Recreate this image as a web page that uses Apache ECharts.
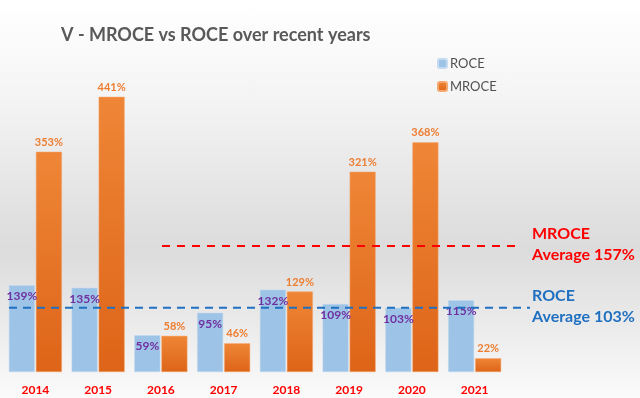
<!DOCTYPE html>
<html>
<head>
<meta charset="utf-8">
<script src="https://cdn.jsdelivr.net/npm/echarts@6/dist/echarts.min.js"></script>
<style>
  html, body { margin: 0; padding: 0; }
  #chart {
    width: 640px;
    height: 398px;
    background: linear-gradient(to bottom, #ffffff 0%, #f4f4f4 25%, #e0e0e0 55%, #dcdcdc 63%, #ebebeb 82%, #fbfbfb 100%);
  }
</style>
</head>
<body>
<div id="chart"></div>
<script>
// 数据
const years = ["2014", "2015", "2016", "2017", "2018", "2019", "2020", "2021"];
const roce = [139, 135, 59, 95, 132, 109, 103, 115];
const mroce = [353, 441, 58, 46, 129, 321, 368, 22];
// 平均线 (图上红线画的位置比157%高)
const roceAvg = 103;
const mroceAvgDrawn = 202;
const avgTexts = [
  { name: "MROCE", text: "Average 157%", color: "#ff0000" },
  { name: "ROCE", text: "Average 103%", color: "#1f70c1" }
];

const font = "Lato, 'Open Sans', sans-serif";
const chart = echarts.init(document.getElementById("chart"));

const option = {
  animation: false,
  textStyle: { fontFamily: font },
  title: {
    text: "V - MROCE vs ROCE over recent years",
    left: 56,
    top: 21,
    textStyle: { fontSize: 18, fontWeight: "bold", color: "#595959", fontFamily: font }
  },
  legend: {
    orient: "vertical",
    left: 432,
    top: 52,
    itemWidth: 9,
    itemHeight: 9,
    itemGap: 10,
    textStyle: { fontSize: 13, color: "#505050", padding: [0, 0, 0, -2] },
    data: ["ROCE", "MROCE"]
  },
  grid: { left: 4, right: 134, top: 60, bottom: 26 },
  xAxis: {
    type: "category",
    data: years,
    axisLine: { show: false },
    axisTick: { show: false },
    axisLabel: { color: "#ff0000", fontWeight: "bold", fontSize: 12, margin: 12 }
  },
  yAxis: {
    type: "value",
    min: 0,
    max: 500,
    show: false,
    splitLine: { show: false }
  },
  series: [
    {
      name: "ROCE",
      type: "bar",
      data: roce,
      barWidth: 26,
      barGap: "4%",
      itemStyle: { color: "#9dc3e6", borderColor: "#c3daf0", borderWidth: 0.5 },
      label: {
        show: true,
        position: "insideTop",
        distance: 5,
        formatter: "{c}%",
        color: "#7030a0",
        fontWeight: "bold",
        fontSize: 12
      }
    },
    {
      name: "MROCE",
      type: "bar",
      data: mroce,
      barWidth: 26,
      itemStyle: {
        color: new echarts.graphic.LinearGradient(0, 0, 0, 1, [
          { offset: 0, color: "#ef8637" },
          { offset: 1, color: "#dd6418" }
        ]),
        borderColor: "#f4a870",
        borderWidth: 0.5
      },
      label: {
        show: true,
        position: "top",
        distance: 4,
        formatter: "{c}%",
        color: "#ed7d31",
        fontWeight: "bold",
        fontSize: 11
      }
    }
  ]
};
chart.setOption(option);

// 平均线和右侧文字
const yRed = chart.convertToPixel({ yAxisIndex: 0 }, mroceAvgDrawn);
const yBlue = chart.convertToPixel({ yAxisIndex: 0 }, roceAvg);
const graphics = [
  {
    type: "line",
    z: 100,
    shape: { x1: 162, y1: yRed, x2: 516, y2: yRed },
    style: { stroke: "#ff0000", lineWidth: 2, lineDash: [8, 7] }
  },
  {
    type: "line",
    z: 100,
    shape: { x1: 9, y1: yBlue, x2: 530, y2: yBlue },
    style: { stroke: "#1f70c1", lineWidth: 2, lineDash: [8, 6] }
  }
];
const textTops = [223, 285];
avgTexts.forEach(function(t, i) {
  graphics.push({
    type: "text",
    z: 100,
    left: 532,
    top: textTops[i],
    style: {
      text: t.name + "\n" + t.text,
      fill: t.color,
      font: "bold 16px " + font,
      lineHeight: 21
    }
  });
});
chart.setOption({ graphic: graphics });
</script>
</body>
</html>
